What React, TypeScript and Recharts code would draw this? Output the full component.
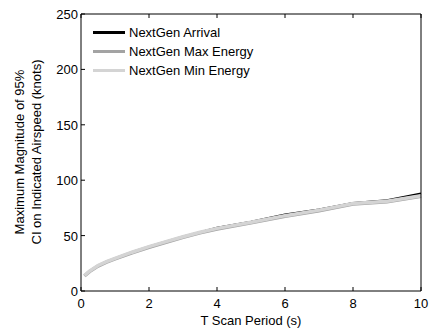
import React from 'react';
import { LineChart, Line, XAxis, YAxis, Legend } from 'recharts';

const periods = [0.1, 0.25, 0.5, 0.75, 1, 1.5, 2, 2.5, 3, 3.5, 4, 5, 6, 7, 8, 9, 10];
const arrival = [14, 18, 23, 26.5, 29.5, 35, 40, 44.5, 49, 53, 57, 62.5, 69, 73.5, 79.5, 82, 88];
const maxEnergy = [13.5, 17.5, 22.5, 26, 29, 34.5, 39.5, 44, 48.5, 52.5, 56, 61.5, 67.5, 72.5, 78.5, 80.5, 85.5];
const minEnergy = [14, 18, 23, 26.5, 29.5, 35, 40, 44.5, 49, 53, 56.5, 62, 68, 73, 79, 81, 86];

const xTicks = [0, 2, 4, 6, 8, 10];
const yTicks = [0, 50, 100, 150, 200, 250];

const seriesNames = ['NextGen Arrival', 'NextGen Max Energy', 'NextGen Min Energy'];
const seriesColors = ['#000000', '#a3a3a3', '#d4d4d4'];

const data = periods.map((t, i) => ({
  t,
  arrival: arrival[i],
  maxEnergy: maxEnergy[i],
  minEnergy: minEnergy[i],
}));

const FONT = '"Liberation Sans", Arial, sans-serif';
const TICK_LEN = 4;

function BottomTick({ x, y, payload }: any) {
  return (
    <g>
      <line x1={x} x2={x} y1={y} y2={y - TICK_LEN} stroke="#000" />
      <text x={x} y={y + 17} textAnchor="middle" fontSize={13} fontFamily={FONT} fill="#000">
        {payload.value}
      </text>
    </g>
  );
}

function TopTick({ x, y }: any) {
  return <line x1={x} x2={x} y1={y} y2={y + TICK_LEN} stroke="#000" />;
}

function LeftTick({ x, y, payload }: any) {
  return (
    <g>
      <line x1={x} x2={x + TICK_LEN} y1={y} y2={y} stroke="#000" />
      <text x={x - 3} y={y + 5} textAnchor="end" fontSize={13} fontFamily={FONT} fill="#000">
        {payload.value}
      </text>
    </g>
  );
}

function RightTick({ x, y }: any) {
  return <line x1={x} x2={x - TICK_LEN} y1={y} y2={y} stroke="#000" />;
}

function YLabel() {
  const cy = 152;
  return (
    <g>
      <text x={19} y={cy} transform={`rotate(-90, 19, ${cy})`} textAnchor="middle" dominantBaseline="central" fontSize={13} fontFamily={FONT} fill="#000">
        Maximum Magnitude of 95%
      </text>
      <text x={36} y={cy} transform={`rotate(-90, 36, ${cy})`} textAnchor="middle" dominantBaseline="central" fontSize={13} fontFamily={FONT} fill="#000">
        CI on Indicated Airspeed (knots)
      </text>
    </g>
  );
}

function LegendBox() {
  return (
    <div style={{ fontFamily: FONT, fontSize: 13, color: '#000' }}>
      {seriesNames.map((name, i) => (
        <div key={name} style={{ display: 'flex', alignItems: 'center', height: 19 }}>
          <div style={{ width: 32, height: 3, background: seriesColors[i], marginRight: 4 }} />
          <span>{name}</span>
        </div>
      ))}
    </div>
  );
}

export default function App() {
  return (
    <div style={{ position: 'absolute', left: 0, top: 0, width: 431, height: 330, background: '#fff' }}>
      <LineChart width={431} height={330} data={data} margin={{ top: 13, right: 9, bottom: 9, left: 41 }}>
        <XAxis
          dataKey="t"
          type="number"
          domain={[0, 10]}
          ticks={xTicks}
          height={30}
          tickSize={0}
          tickMargin={0}
          tick={<BottomTick />}
          axisLine={{ stroke: '#000' }}
          tickLine={false}
          label={{ value: 'T Scan Period (s)', position: 'insideBottom', offset: -4, fontSize: 13, fontFamily: FONT, fill: '#000' }}
        />
        <XAxis
          xAxisId="top"
          orientation="top"
          dataKey="t"
          type="number"
          domain={[0, 10]}
          ticks={xTicks}
          height={1}
          tickSize={0}
          tickMargin={0}
          tick={<TopTick />}
          axisLine={{ stroke: '#000' }}
          tickLine={false}
        />
        <YAxis
          type="number"
          domain={[0, 250]}
          ticks={yTicks}
          width={40}
          tickSize={0}
          tickMargin={0}
          tick={<LeftTick />}
          axisLine={{ stroke: '#000' }}
          tickLine={false}
          label={<YLabel />}
        />
        <YAxis
          yAxisId="right"
          orientation="right"
          type="number"
          domain={[0, 250]}
          ticks={yTicks}
          width={1}
          tickSize={0}
          tickMargin={0}
          tick={<RightTick />}
          axisLine={{ stroke: '#000' }}
          tickLine={false}
        />
        <Legend
          verticalAlign="middle"
          align="center"
          layout="horizontal"
          content={<LegendBox />}
          wrapperStyle={{ position: 'absolute', left: 93, top: 23, width: 200 }}
        />
        <Line type="linear" dataKey="arrival" name={seriesNames[0]} stroke={seriesColors[0]} strokeWidth={2} dot={false} isAnimationActive={false} />
        <Line type="linear" dataKey="maxEnergy" name={seriesNames[1]} stroke={seriesColors[1]} strokeWidth={3.5} dot={false} isAnimationActive={false} />
        <Line type="linear" dataKey="minEnergy" name={seriesNames[2]} stroke={seriesColors[2]} strokeWidth={3.5} dot={false} isAnimationActive={false} />
      </LineChart>
    </div>
  );
}
